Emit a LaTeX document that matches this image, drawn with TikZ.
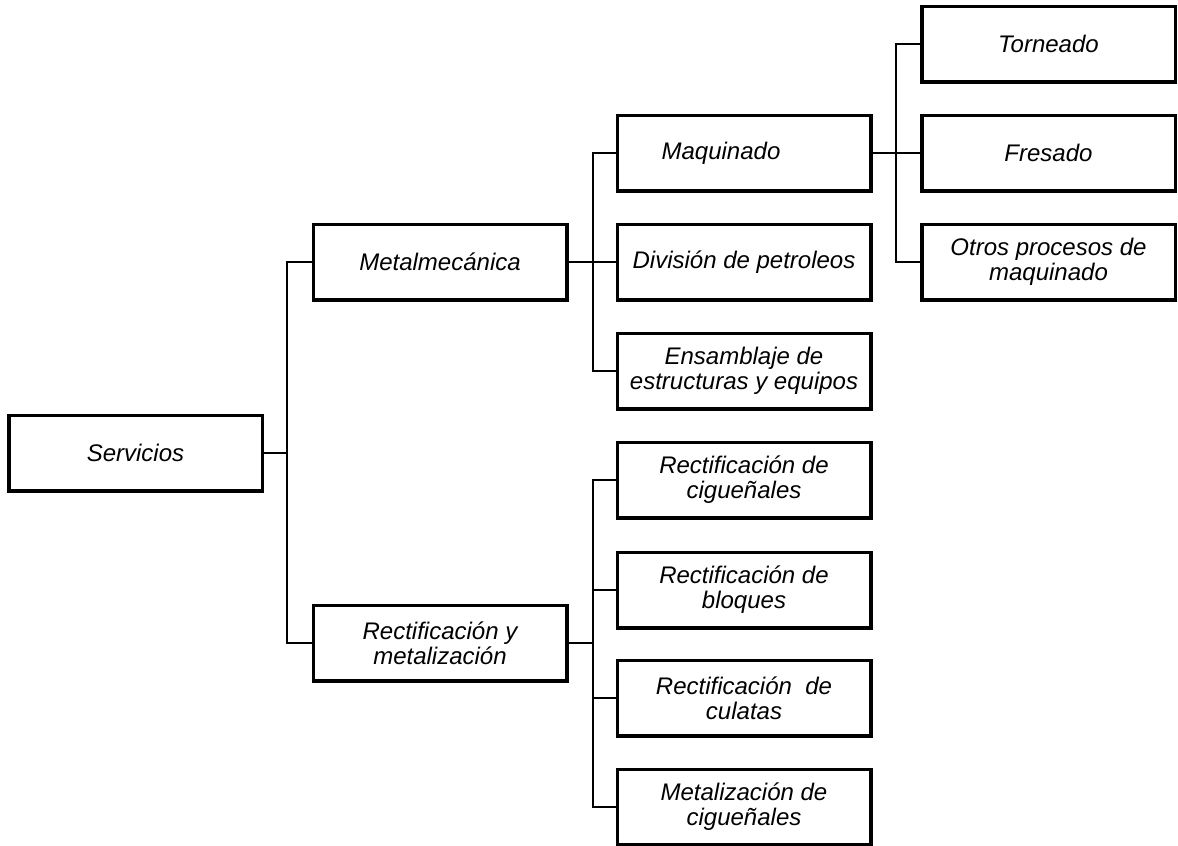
\documentclass[tikz,border=0pt]{standalone}
\usepackage{fontspec}
\setmainfont{Liberation Sans}
\begin{document}
\begin{tikzpicture}[x=1pt,y=-1pt,
  box/.style={draw=black, line width=3.5pt, minimum width=253.5pt, minimum height=75.5pt,
    inner sep=2pt, align=center, font=\fontsize{24}{25}\selectfont\itshape},
  link/.style={draw=black, line width=2pt, line join=miter}]
\useasboundingbox (0,0) rectangle (1178,846);

% level 0
\node[box] (serv) at (135.5,453) {Servicios};
% level 1
\node[box] (met) at (440,262) {Metalmecánica};
\node[box] (rym) at (440,643) {Rectificación y\\metalización};
% level 2
\node[box] (maq) at (744,153) {Maquinado\hspace*{46pt}};
\node[box] (div) at (744,262) {División de petroleos};
\node[box] (ens) at (744,371) {Ensamblaje de\\estructuras y equipos};
\node[box] (rc1) at (744,480) {Rectificación de\\cigueñales};
\node[box] (rc2) at (744,590) {Rectificación de\\bloques};
\node[box] (rc3) at (744,698) {Rectificación~~de\\culatas};
\node[box] (rc4) at (744,807) {Metalización de\\cigueñales};
% level 3
\node[box] (tor) at (1048.5,44) {Torneado};
\node[box] (fre) at (1048.5,153) {Fresado};
\node[box] (otr) at (1048.5,262) {Otros procesos de\\maquinado};

% branching points
\coordinate (j1) at (287,453);
\coordinate (j2) at (592.5,262);
\coordinate (j3) at (592.5,643);
\coordinate (j4) at (896,153);

% connectors
\draw[link] (serv.east) -- (j1);
\draw[link] (met.west) -| (j1) |- (rym.west);

\draw[link] (met.east) -- (div.west);
\draw[link] (maq.west) -| (j2) |- (ens.west);

\draw[link] (rym.east) -- (j3);
\draw[link] (rc1.west) -| (j3) |- (rc4.west);
\draw[link] (rc2.west) -- (rc2.west -| j3);
\draw[link] (rc3.west) -- (rc3.west -| j3);

\draw[link] (maq.east) -- (fre.west);
\draw[link] (tor.west) -| (j4) |- (otr.west);
\end{tikzpicture}
\end{document}
